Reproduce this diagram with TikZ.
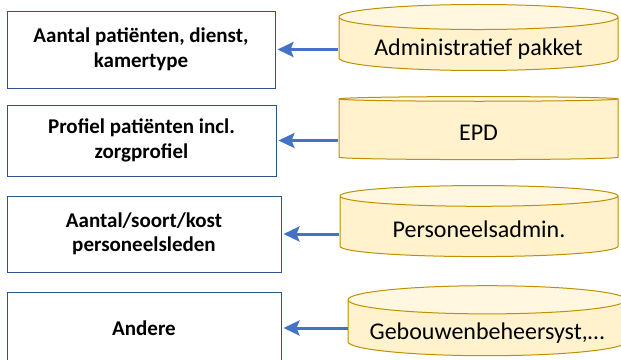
\documentclass[tikz,border=0pt]{standalone}
\usepackage{fontspec}
\setmainfont{Carlito}
\usetikzlibrary{shapes.geometric,arrows.meta}
\definecolor{boxLine}{HTML}{2F528F}
\definecolor{arrowBlue}{HTML}{4472C4}
\definecolor{dbFill}{HTML}{FFF2CC}
\definecolor{dbLine}{HTML}{BF9000}
\begin{document}
\begin{tikzpicture}
[x=1pt,y=-1pt,
  infoBox/.style={shape=rectangle,draw=boxLine,line width=1pt,align=center,%
    font=\bfseries\fontsize{21}{24.5}\selectfont,inner sep=0pt},%
  dbCyl/.style={shape=cylinder,shape border rotate=90,aspect=0.12,draw=dbLine,line width=1pt,%
    cylinder uses custom fill,cylinder body fill=dbFill,cylinder end fill=dbFill!60,%
    font=\fontsize{24}{28}\selectfont,inner sep=0pt,text height=22pt,text depth=0pt},%
  feedArrow/.style={-{Stealth[length=16pt,width=15pt,inset=3pt]},line width=3pt,color=arrowBlue,shorten >=2pt}]
\useasboundingbox (0,0) rectangle (621,359);
\clip (0,0) rectangle (621,359);
%% boxes on the left
\foreach \nodename/\x/\y/\w/\h/\txt in {b1/141/49.5/268/77/{Aantal patiënten, dienst,\\kamertype},
  b2/141.5/140.5/269/71/{Profiel patiënten incl.\\zorgprofiel},
  b3/144/234/274/76/{Aantal/soort/kost\\personeelsleden},
  b4/144/328/274/72/{Andere}}
{
  \node (\nodename) at (\x,\y) [infoBox,minimum width=\w pt,minimum height=\h pt] {\txt};
}
%% databases on the right
\foreach \nodename/\x/\y/\w/\h/\txt in {c1/478.5/44/279/66/{Administratief pakket},
  c2/478.5/129.5/279/63/{EPD},
  c3/479/226.5/278/71/{Personeelsadmin.},
  c4/487/328/278/70/{Gebouwenbeheersyst,\dots}}
{
  \node (\nodename) at (\x,\y) [dbCyl,minimum width=\w pt,minimum height=\h pt] {\txt};
}
%% arrows
\foreach \n in {1,2,3,4}
{
  \draw[feedArrow] (c\n.west |- b\n.east) -- (b\n.east);
}
\end{tikzpicture}
\end{document}
